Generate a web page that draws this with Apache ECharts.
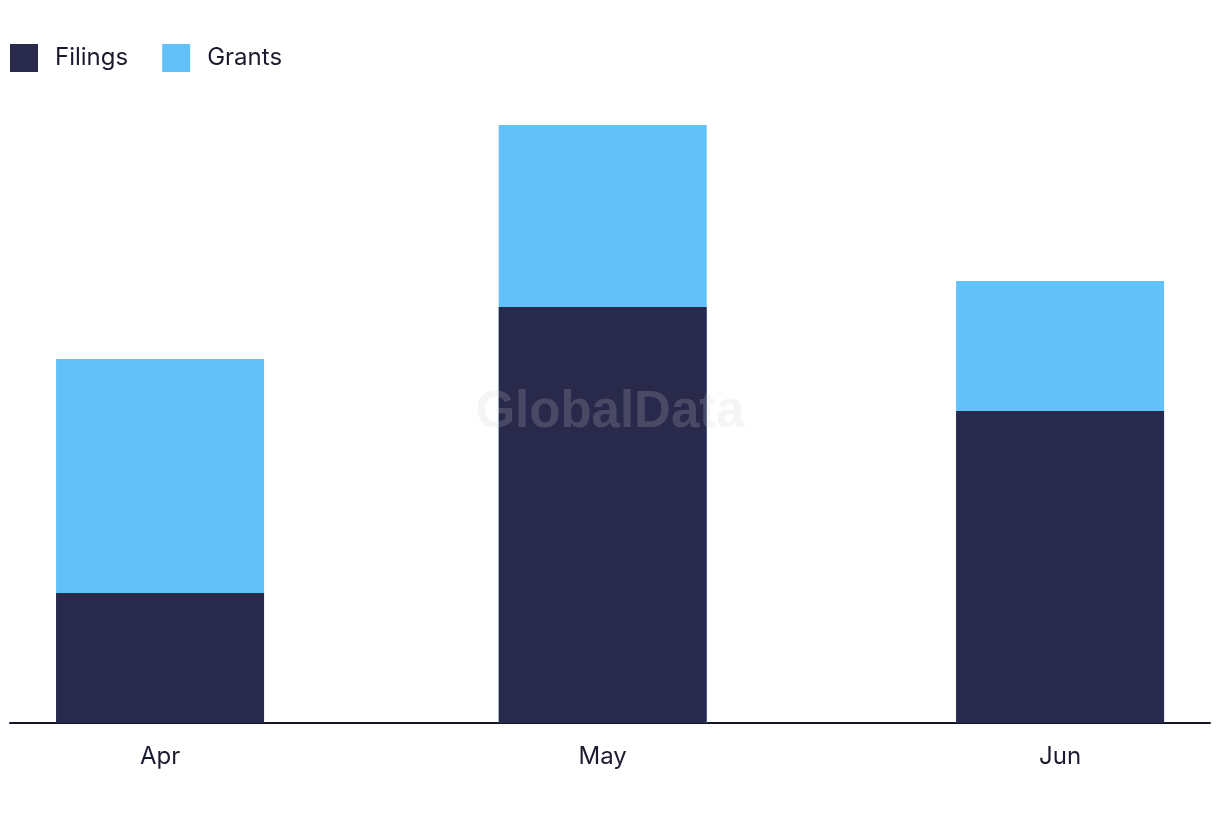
<!DOCTYPE html>
<html><head><meta charset="utf-8">
<script src="https://cdn.jsdelivr.net/npm/echarts@6/dist/echarts.min.js"></script>
<style>html,body{margin:0;padding:0;background:#fff}#c{width:1220px;height:822px}</style>
</head><body><div id="c"></div>
<script>
const categories = ['Apr', 'May', 'Jun'];
const dates = ['2024-04-01', '2024-05-01', '2024-06-01'];
const filings = [5, 16, 12];
const grants = [9, 7, 5];

const DAY = 86400000;
const ts = dates.map(d => Date.parse(d + 'T00:00:00Z'));
const xMin = ts[0] - 10.17 * DAY;
const xMax = xMin + 81.33 * DAY;
const font = 'Inter, "Noto Sans", sans-serif';
// Grants sits on top of Filings: its bar top is the cumulative total
const totals = filings.map((f, i) => f + grants[i]);

const chart = echarts.init(document.getElementById('c'));
chart.setOption({
  animation: false,
  backgroundColor: '#ffffff',
  textStyle: { fontFamily: font },
  graphic: [{
    type: 'text', left: 'center', top: 387, z: 100,
    style: { text: 'GlobalData', font: 'bold 51px "Liberation Sans", Arial, sans-serif', fill: 'rgba(204,204,212,0.2)' }
  }],
  legend: {
    left: 5, top: 39, itemWidth: 28, itemHeight: 28, itemGap: 34, icon: 'rect',
    textStyle: { fontSize: 24, color: '#1b1b30', fontFamily: font, padding: [0, 0, 0, 12] },
    data: ['Filings', 'Grants']
  },
  grid: { left: 10, right: 10, top: 73, bottom: 99 },
  xAxis: {
    type: 'value', min: xMin, max: xMax,
    splitLine: { show: false },
    axisLine: { show: true, lineStyle: { color: '#16162a', width: 2 } },
    axisTick: { show: false },
    axisLabel: {
      customValues: ts, fontSize: 24, color: '#1b1b30', margin: 22, fontFamily: font,
      formatter: v => categories[ts.indexOf(+v)] || ''
    }
  },
  yAxis: { type: 'value', min: 0, max: 25, show: false, splitLine: { show: false } },
  series: [
    { name: 'Filings', type: 'bar', z: 3, barWidth: 208, barGap: '-100%', itemStyle: { color: '#28294b' },
      data: ts.map((t, i) => [t, filings[i]]) },
    { name: 'Grants', type: 'bar', z: 2, barWidth: 208, barGap: '-100%', itemStyle: { color: '#62c1f9' },
      data: ts.map((t, i) => [t, totals[i]]) }
  ]
});
</script></body></html>
